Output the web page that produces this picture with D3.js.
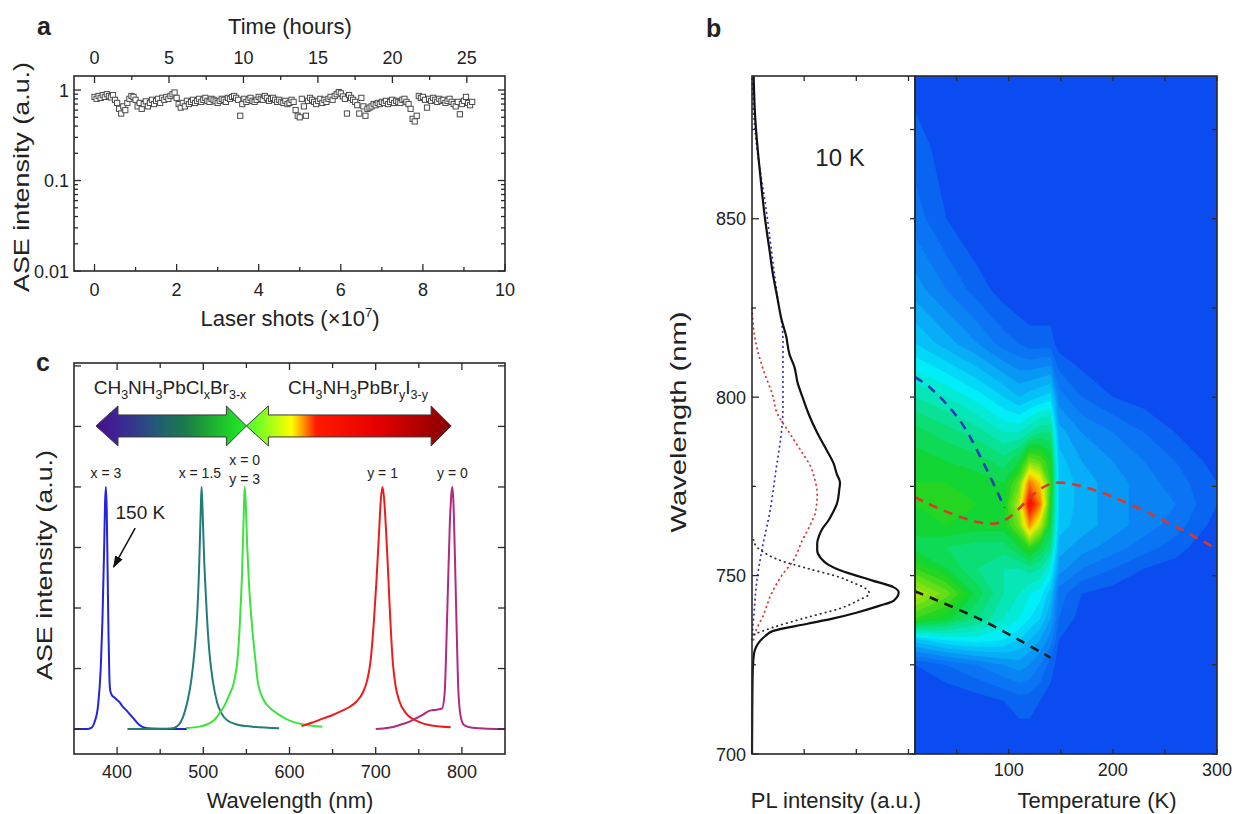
<!DOCTYPE html>
<html>
<head>
<meta charset="utf-8">
<script src="https://cdn.jsdelivr.net/npm/d3@7"></script>
<style>
  body { margin: 0; background: #fff; }
  text { font-family: Arial, "Liberation Sans", Helvetica, sans-serif; fill: #222; }
</style>
</head>
<body>
<svg id="fig" width="1239" height="814"></svg>
<script>
// ---------- panel a : ASE stability ----------
const shotStep = 0.05;            // x10^7 shots between samples
const hoursPerShot = 2.756;       // hours per 10^7 shots (top axis)
const aseValues = [
  0.84,0.80,0.86,0.82,0.88,0.84,0.90,0.86,0.83,0.88,
  0.78,0.72,0.62,0.55,0.66,0.60,0.72,0.80,0.86,0.84,
  0.78,0.66,0.72,0.62,0.70,0.75,0.66,0.72,0.78,0.70,
  0.76,0.80,0.72,0.82,0.78,0.84,0.80,0.86,0.90,0.94,
  0.82,0.70,0.64,0.72,0.66,0.76,0.70,0.74,0.78,0.72,
  0.76,0.80,0.74,0.78,0.82,0.76,0.74,0.80,0.78,0.75,
  0.72,0.76,0.80,0.78,0.74,0.82,0.80,0.84,0.86,0.82,
  0.78,0.52,0.70,0.80,0.74,0.78,0.82,0.76,0.74,0.78,
  0.84,0.80,0.78,0.86,0.82,0.76,0.80,0.82,0.78,0.74,
  0.78,0.74,0.72,0.76,0.70,0.72,0.78,0.74,0.60,0.52,
  0.50,0.80,0.66,0.52,0.76,0.82,0.78,0.74,0.70,0.76,
  0.80,0.72,0.78,0.74,0.80,0.84,0.78,0.86,0.90,0.95,
  0.92,0.85,0.80,0.55,0.88,0.82,0.78,0.74,0.68,0.55,
  0.82,0.66,0.52,0.62,0.64,0.66,0.70,0.68,0.72,0.70,
  0.74,0.72,0.76,0.70,0.74,0.78,0.72,0.76,0.74,0.72,
  0.78,0.80,0.74,0.70,0.62,0.48,0.45,0.52,0.86,0.82,
  0.84,0.78,0.64,0.80,0.76,0.82,0.78,0.74,0.80,0.76,
  0.78,0.72,0.76,0.80,0.74,0.70,0.66,0.74,0.54,0.70,
  0.76,0.84,0.72,0.68,0.74
];
const shotTicks = [0, 2, 4, 6, 8, 10];
const shotMinor = [1, 3, 5, 7, 9];
const hourTicks = [0, 5, 10, 15, 20, 25];
const hourMinor = [2.5, 7.5, 12.5, 17.5, 22.5];
const aseTicks = [0.01, 0.1, 1];

// ---------- panel c : ASE spectra ----------
const spectra = [
  { name: "x3", color: "#2424d8",
    wl:  [350,365,370,374,378,381,383,385,386,387,388,389,390,391,392,394,397,400,403,406,410,415,420,425,430,440,460,481],
    val: [0,0,0.005,0.03,0.1,0.25,0.45,0.75,0.93,1.0,0.9,0.65,0.4,0.22,0.16,0.14,0.13,0.12,0.11,0.095,0.08,0.06,0.04,0.02,0.008,0.002,0,0] },
  { name: "x15", color: "#237c7a",
    wl:  [412,450,465,469,474,478,482,486,490,493,495,497,498,499,501,503,504,507,511,516,521,528,540,557,588],
    val: [0,0,0.003,0.01,0.03,0.066,0.12,0.2,0.33,0.48,0.65,0.9,1.0,0.92,0.7,0.55,0.48,0.32,0.2,0.11,0.066,0.035,0.018,0.01,0.003] },
  { name: "x0", color: "#3ee23e",
    wl:  [480,495,505,512,519,525,530,536,540,543,545,547,548,549,551,553,556,560,563,570,578,585,600,615,638],
    val: [0.004,0.01,0.02,0.035,0.066,0.1,0.14,0.2,0.3,0.48,0.65,0.9,1.0,0.95,0.75,0.6,0.45,0.3,0.2,0.12,0.085,0.066,0.035,0.02,0.01] },
  { name: "y1", color: "#ec1c1c",
    wl:  [614,625,640,650,660,670,678,685,690,694,698,701,704,706,708,710,712,714,716,718,720,723,727,735,750,765,787],
    val: [0.012,0.025,0.045,0.058,0.074,0.092,0.115,0.15,0.2,0.28,0.45,0.62,0.82,0.95,1.0,0.94,0.82,0.68,0.52,0.38,0.27,0.18,0.12,0.066,0.03,0.015,0.008] },
  { name: "y0", color: "#b02a80",
    wl:  [700,715,727,740,747,755,762,770,777,780,783,786,788,789,790,792,794,796,799,803,812,830,850],
    val: [0,0.005,0.016,0.032,0.045,0.06,0.075,0.08,0.085,0.15,0.48,0.85,0.98,1.0,0.95,0.7,0.4,0.15,0.045,0.015,0.005,0.001,0] }
];
const peakLabels = [
  { wl: 387, lines: ["x = 3"] },
  { wl: 496, lines: ["x = 1.5"] },
  { wl: 548, lines: ["x = 0", "y = 3"] },
  { wl: 708, lines: ["y = 1"] },
  { wl: 789, lines: ["y = 0"] }
];
const wlTicks = [400, 500, 600, 700, 800];
const wlMinor = [450, 550, 650, 750];
const aseLinTicks = [0, 0.25, 0.5, 0.75, 1, 1.25, 1.5];
// composition arrows (wavelength span, arrow centre in intensity units)
const compArrows = [
  { from: 375.5, to: 550, y: 1.252, grad: "gradCl",
    stops: [[0,"#4a0c92"],[0.18,"#3a2a94"],[0.4,"#235a78"],[0.6,"#1a7c48"],[0.8,"#1cb82c"],[1,"#22f022"]] },
  { from: 550, to: 787.5, y: 1.252, grad: "gradI",
    stops: [[0,"#44ff30"],[0.14,"#b8ff10"],[0.22,"#ffff00"],[0.27,"#ffa400"],[0.34,"#ff1a00"],[0.65,"#e40000"],[1,"#860000"]] }
];
const note150 = { from: [421, 0.83], to: [396, 0.67], text: "150 K", at: [427, 0.9] };

// ---------- panel b : PL and temperature map ----------
const plBlackWl = [700,715,724,728,730,731.7,733,734.5,736.5,738,739.6,741.5,743,745.3,746.7,748.6,750,751.5,753,755,757,759,761,763,765.5,768,770,772,774,776,778.5,781.5,785,790,795,800,804,808.5,812,817,822,828,834,842,850,858,867,878,890];
const plBlack   = [0,0.002,0.005,0.012,0.025,0.05,0.08,0.13,0.34,0.5,0.64,0.78,0.87,0.90,0.87,0.74,0.64,0.54,0.47,0.42,0.40,0.40,0.41,0.43,0.47,0.50,0.52,0.53,0.535,0.54,0.52,0.50,0.46,0.40,0.35,0.31,0.28,0.26,0.23,0.21,0.18,0.155,0.13,0.105,0.08,0.06,0.04,0.02,0.01];
const plFitKWl  = [733.5,735.5,738.3,740.8,743,745,746.3,748,749.5,752,754.3,756.6,758,760];
const plFitK    = [0.01,0.13,0.34,0.54,0.65,0.72,0.70,0.62,0.54,0.34,0.17,0.07,0.03,0.01];
const plFitRWl  = [732,734,739,745,750.5,754,760,764,768,773,777,780.5,785,790,796,800,807.6,816,825];
const plFitR    = [0.01,0.02,0.07,0.12,0.19,0.25,0.31,0.355,0.39,0.40,0.385,0.36,0.30,0.23,0.15,0.13,0.07,0.02,0];
const plFitBWl  = [732,738,748.6,757,768,780.5,790,797,800,808,816,830,851.6,874,890];
const plFitB    = [0,0.01,0.03,0.06,0.11,0.15,0.18,0.19,0.19,0.19,0.19,0.15,0.09,0.02,0];
const bWlTicks = [700, 750, 800, 850];
const bWlMinor = [725, 775, 825, 875];
const plTicks = [0.32, 0.64, 0.96];
const tempTicks = [100, 200, 300];
const tempMinor = [50, 150, 250];

const hmTemps = [10,40,70,95,110,120,130,140,148,170,200,230,260,300];
const hmWaves = [700,715,725,732,738,745,752,758,764,770,776,782,790,800,815,830,850,870,890];
const hmRows = [
  [.20,.20,.20,.20,.20,.20,.20,.20,.20,.20,.20,.20,.20,.20],
  [.20,.20,.21,.22,.23,.23,.22,.21,.20,.20,.20,.20,.20,.20],
  [.22,.24,.26,.28,.29,.28,.26,.23,.21,.20,.20,.20,.20,.20],
  [.33,.36,.37,.36,.34,.32,.30,.27,.22,.20,.20,.20,.20,.20],
  [.52,.49,.44,.40,.38,.36,.34,.30,.24,.21,.20,.20,.20,.20],
  [.60,.55,.47,.42,.40,.38,.37,.33,.25,.22,.21,.20,.20,.20],
  [.52,.48,.44,.42,.42,.43,.42,.38,.29,.26,.24,.22,.21,.20],
  [.47,.46,.45,.45,.48,.52,.48,.44,.31,.29,.27,.25,.23,.20],
  [.49,.50,.49,.49,.56,.70,.60,.48,.33,.31,.29,.27,.25,.21],
  [.50,.51,.50,.49,.60,.82,.72,.50,.34,.31,.29,.27,.26,.22],
  [.50,.50,.49,.48,.55,.72,.66,.52,.34,.31,.29,.27,.25,.22],
  [.49,.48,.47,.45,.48,.56,.54,.50,.33,.30,.28,.26,.24,.21],
  [.47,.45,.43,.40,.40,.42,.44,.44,.31,.28,.26,.24,.22,.20],
  [.42,.40,.37,.34,.32,.33,.34,.35,.27,.24,.22,.21,.20,.20],
  [.34,.31,.28,.25,.24,.23,.23,.23,.21,.20,.20,.20,.20,.20],
  [.29,.26,.23,.21,.20,.20,.20,.20,.20,.20,.20,.20,.20,.20],
  [.25,.22,.20,.20,.20,.20,.20,.20,.20,.20,.20,.20,.20,.20],
  [.23,.21,.20,.20,.20,.20,.20,.20,.20,.20,.20,.20,.20,.20],
  [.21,.20,.20,.20,.20,.20,.20,.20,.20,.20,.20,.20,.20,.20]
];
// dashed peak tracks on the map (temperature, wavelength)
const trackBlue  = { color: "#1f3fb8", T: [10,24,53,75,96],   wl: [805.6,802.8,793.5,782,769] };
const trackRed   = { color: "#d83a2a", T: [10,87,146,300],    wl: [772,764.6,776,757.4] };
const trackBlack = { color: "#1a1a1a", T: [10,75,140],        wl: [745.6,737.4,727] };

// ================= drawing =================
const svg = d3.select("#fig");
const ink = "#2a2a2a";

function xTicks(g, s, vals, y, len) {
  g.append("g").selectAll("line").data(vals).join("line")
    .attr("x1", d => s(d)).attr("x2", d => s(d))
    .attr("y1", y).attr("y2", y + len)
    .attr("stroke", ink).attr("stroke-width", 1.3);
}
function yTicks(g, s, vals, x, len) {
  g.append("g").selectAll("line").data(vals).join("line")
    .attr("y1", d => s(d)).attr("y2", d => s(d))
    .attr("x1", x).attr("x2", x + len)
    .attr("stroke", ink).attr("stroke-width", 1.3);
}
function xLabels(g, s, vals, y, fmt) {
  g.append("g").selectAll("text").data(vals).join("text")
    .attr("x", d => s(d)).attr("y", y)
    .attr("text-anchor", "middle").attr("font-size", 18)
    .text(fmt || (d => d));
}
function yLabels(g, s, vals, x, fmt) {
  g.append("g").selectAll("text").data(vals).join("text")
    .attr("x", x).attr("y", d => s(d) + 6.5)
    .attr("text-anchor", "end").attr("font-size", 18)
    .text(fmt || (d => d));
}
function frame(g, x0, y0, x1, y1) {
  g.append("rect").attr("x", x0).attr("y", y0)
    .attr("width", x1 - x0).attr("height", y1 - y0)
    .attr("fill", "none").attr("stroke", ink).attr("stroke-width", 1.6);
}
function vTitle(g, x, y, txt, len) {
  g.append("text").attr("transform", `translate(${x},${y}) rotate(-90)`)
    .attr("text-anchor", "middle").attr("font-size", 22)
    .attr("textLength", len).attr("lengthAdjust", "spacingAndGlyphs")
    .text(txt);
}
function letter(x, y, t) {
  svg.append("text").attr("x", x).attr("y", y).attr("font-size", 25)
    .attr("font-weight", "bold").attr("fill", "#111").text(t);
}

// ---- panel a ----
{
  const g = svg.append("g");
  const xa = d3.scaleLinear().domain([-0.5, 10]).range([74, 505]);
  const xh = d3.scaleLinear().domain([-0.5 * hoursPerShot, 10 * hoursPerShot]).range([74, 505]);
  const ya = d3.scaleLog().domain([0.01, 1.43]).range([271, 76]);
  const minor = [];
  [0.01, 0.1].forEach(b => d3.range(2, 10).forEach(m => minor.push(b * m)));

  g.append("g").selectAll("rect").data(aseValues).join("rect")
    .attr("x", (d, i) => xa(i * shotStep) - 2.6)
    .attr("y", d => ya(d) - 2.6)
    .attr("width", 5.2).attr("height", 5.2)
    .attr("fill", "#fff").attr("stroke", "#4a4a4a").attr("stroke-width", 1);

  frame(g, 74, 76, 505, 271);
  xTicks(g, xa, shotTicks, 271, -7);
  xTicks(g, xa, shotMinor, 271, -4);
  xTicks(g, xh, hourTicks, 76, 7);
  xTicks(g, xh, hourMinor, 76, 4);
  yTicks(g, ya, aseTicks, 74, 7);
  yTicks(g, ya, minor, 74, 4);
  yTicks(g, ya, aseTicks, 505, -7);
  yTicks(g, ya, minor, 505, -4);
  xLabels(g, xa, shotTicks, 296);
  xLabels(g, xh, hourTicks, 64);
  yLabels(g, ya, aseTicks, 69);

  const t = g.append("text").attr("x", 290).attr("y", 326)
    .attr("text-anchor", "middle").attr("font-size", 22);
  t.append("tspan").text("Laser shots (\u00d710");
  t.append("tspan").attr("font-size", 13).attr("dy", -9).text("7");
  t.append("tspan").attr("dy", 9).text(")");
  g.append("text").attr("x", 290).attr("y", 34)
    .attr("text-anchor", "middle").attr("font-size", 22).text("Time (hours)");
  vTitle(g, 29, 177, "ASE intensity (a.u.)", 230);
  letter(37, 35, "a");
}

// ---- panel c ----
{
  const g = svg.append("g");
  const xc = d3.scaleLinear().domain([350, 850]).range([74, 505]);
  const yc = d3.scaleLinear().domain([-0.103, 1.512]).range([754, 363]);
  const defs = svg.append("defs");

  compArrows.forEach(a => {
    const lg = defs.append("linearGradient").attr("id", a.grad)
      .attr("x1", "0%").attr("x2", "100%").attr("y1", "0%").attr("y2", "0%");
    a.stops.forEach(s => lg.append("stop").attr("offset", s[0]).attr("stop-color", s[1]));
    const xl = xc(a.from), xr = xc(a.to), cy = yc(a.y);
    const hl = 22, hr = 20, hh = 20, bh = 11;
    const pts = [[xl, cy], [xl + hl, cy - hh], [xl + hl, cy - bh], [xr - hr, cy - bh], [xr - hr, cy - hh],
                 [xr, cy], [xr - hr, cy + hh], [xr - hr, cy + bh], [xl + hl, cy + bh], [xl + hl, cy + hh]];
    g.append("path").attr("d", d3.line()(pts) + "Z")
      .attr("fill", `url(#${a.grad})`).attr("stroke", "#3a3a3a").attr("stroke-width", 1);
  });

  function formula(x, y, parts) {
    const t = g.append("text").attr("x", x).attr("y", y)
      .attr("text-anchor", "middle").attr("font-size", 19);
    let sub = false;
    parts.forEach(p => {
      const s = t.append("tspan").text(p[0]);
      if (p[1] && !sub) { s.attr("dy", 5).attr("font-size", 12.5); sub = true; }
      else if (!p[1] && sub) { s.attr("dy", -5); sub = false; }
      else if (p[1]) s.attr("font-size", 12.5);
    });
  }
  formula(170, 394, [["CH",0],["3",1],["NH",0],["3",1],["PbCl",0],["x",1],["Br",0],["3-x",1]]);
  formula(358, 394, [["CH",0],["3",1],["NH",0],["3",1],["PbBr",0],["y",1],["I",0],["3-y",1]]);

  const line = d3.line().x(d => xc(d[0])).y(d => yc(d[1])).curve(d3.curveMonotoneX);
  spectra.forEach(s => {
    g.append("path").attr("d", line(s.wl.map((w, i) => [w, s.val[i]])))
      .attr("fill", "none").attr("stroke", s.color).attr("stroke-width", 2);
  });

  peakLabels.forEach(p => {
    const n = p.lines.length;
    p.lines.forEach((l, i) => {
      g.append("text").attr("x", xc(p.wl))
        .attr("y", yc(1) - 9 - (n - 1 - i) * 19 + (n > 1 ? 6 : 0))
        .attr("text-anchor", "middle").attr("font-size", 14).text(l);
    });
  });

  svg.append("defs").append("marker").attr("id", "ah").attr("viewBox", "0 0 10 10")
    .attr("refX", 9).attr("refY", 5).attr("markerWidth", 8).attr("markerHeight", 8)
    .attr("orient", "auto-start-reverse")
    .append("path").attr("d", "M0,1.5 L10,5 L0,8.5 Z").attr("fill", "#111");
  g.append("line").attr("x1", xc(note150.from[0])).attr("y1", yc(note150.from[1]))
    .attr("x2", xc(note150.to[0])).attr("y2", yc(note150.to[1]))
    .attr("stroke", "#111").attr("stroke-width", 1.5).attr("marker-end", "url(#ah)");
  g.append("text").attr("x", xc(note150.at[0])).attr("y", yc(note150.at[1]) + 8)
    .attr("text-anchor", "middle").attr("font-size", 19).text(note150.text);

  frame(g, 74, 363, 505, 754);
  xTicks(g, xc, wlTicks, 754, -7);
  xTicks(g, xc, wlMinor, 754, -5);
  xTicks(g, xc, wlTicks, 363, 7);
  xTicks(g, xc, wlMinor, 363, 5);
  yTicks(g, yc, aseLinTicks, 74, 7);
  yTicks(g, yc, aseLinTicks, 505, -7);
  xLabels(g, xc, wlTicks, 778);
  g.append("text").attr("x", 290).attr("y", 808)
    .attr("text-anchor", "middle").attr("font-size", 22).text("Wavelength (nm)");
  vTitle(g, 52, 565, "ASE intensity (a.u.)", 230);
  letter(36, 371, "c");
}

// ---- panel b ----
{
  const g = svg.append("g");
  const yb = d3.scaleLinear().domain([700, 890]).range([754, 76]);
  const xpl = d3.scaleLinear().domain([0, 1]).range([752, 915]);
  const xt = d3.scaleLinear().domain([10, 300]).range([915, 1217]);

  const heatColor = d3.scaleLinear()
    .domain([0.2, 0.28, 0.37, 0.5, 0.64, 0.78, 0.9])
    .range(["#0a4cf0", "#0a8cf6", "#00eef8", "#14d424", "#f4f000", "#ff2000", "#c00000"])
    .clamp(true);

  svg.append("defs").append("clipPath").attr("id", "hmclip")
    .append("rect").attr("x", 915).attr("y", 76).attr("width", 302).attr("height", 678);
  const hm = g.append("g").attr("clip-path", "url(#hmclip)");
  hm.append("rect").attr("x", 915).attr("y", 76).attr("width", 302).attr("height", 678)
    .attr("fill", heatColor(0.2));

  const nT = hmTemps.length, nW = hmWaves.length;
  const grid = [];
  hmRows.forEach(r => r.forEach(v => grid.push(v)));
  const ti = d3.scaleLinear().domain(d3.range(nT)).range(hmTemps.map(xt));
  const wi = d3.scaleLinear().domain(d3.range(nW)).range(hmWaves.map(yb));
  const proj = d3.geoTransform({ point(x, y) { this.stream.point(ti(x - 0.5), wi(y - 0.5)); } });
  const levels = d3.range(0.22, 0.9, 0.02);
  const contours = d3.contours().size([nT, nW]).thresholds(levels)(grid);
  hm.selectAll("path.c").data(contours).join("path").attr("class", "c")
    .attr("d", d3.geoPath(proj))
    .attr("fill", d => heatColor(d.value + 0.01))
    .attr("stroke", d => heatColor(d.value + 0.01)).attr("stroke-width", 0.5);

  const tline = d3.line().x(d => xt(d[0])).y(d => yb(d[1])).curve(d3.curveCatmullRom);
  [trackBlue, trackRed, trackBlack].forEach(tr => {
    hm.append("path").attr("d", tline(tr.T.map((t, i) => [t, tr.wl[i]])))
      .attr("fill", "none").attr("stroke", tr.color).attr("stroke-width", 2.6)
      .attr("stroke-dasharray", "9,7");
  });

  // PL spectra
  const pline = d3.line().x(d => xpl(d[1])).y(d => yb(d[0])).curve(d3.curveMonotoneY);
  const dotted = [[plFitBWl, plFitB, "#3030c8"], [plFitRWl, plFitR, "#e03030"], [plFitKWl, plFitK, "#333"]];
  dotted.forEach(s => {
    g.append("path").attr("d", pline(s[0].map((w, i) => [w, s[1][i]])))
      .attr("fill", "none").attr("stroke", s[2]).attr("stroke-width", 1.8)
      .attr("stroke-linecap", "round").attr("stroke-dasharray", "0.5,4.5");
  });
  g.append("path").attr("d", pline(plBlackWl.map((w, i) => [w, plBlack[i]])))
    .attr("fill", "none").attr("stroke", "#111").attr("stroke-width", 2.2);

  frame(g, 752, 76, 915, 754);
  frame(g, 915, 76, 1217, 754);
  yTicks(g, yb, bWlTicks, 752, 7);
  yTicks(g, yb, bWlMinor, 752, 4);
  yTicks(g, yb, bWlTicks.concat(bWlMinor), 915, -5);
  yTicks(g, yb, bWlTicks.concat(bWlMinor), 1217, -5);
  xTicks(g, xpl, plTicks, 76, 5);
  xTicks(g, xpl, plTicks, 754, -5);
  xTicks(g, xt, tempTicks.concat(tempMinor), 76, 5);
  xTicks(g, xt, tempTicks.concat(tempMinor), 754, -5);
  yLabels(g, yb, bWlTicks, 746);
  xLabels(g, xt, tempTicks, 776);

  g.append("text").attr("x", 840).attr("y", 166).attr("text-anchor", "middle")
    .attr("font-size", 24).text("10 K");
  g.append("text").attr("x", 836).attr("y", 808).attr("text-anchor", "middle")
    .attr("font-size", 22).text("PL intensity (a.u.)");
  g.append("text").attr("x", 1097).attr("y", 808).attr("text-anchor", "middle")
    .attr("font-size", 22).text("Temperature (K)");
  vTitle(g, 686, 422, "Wavelength (nm)", 221);
  letter(706, 37, "b");
}
</script>
</body>
</html>
